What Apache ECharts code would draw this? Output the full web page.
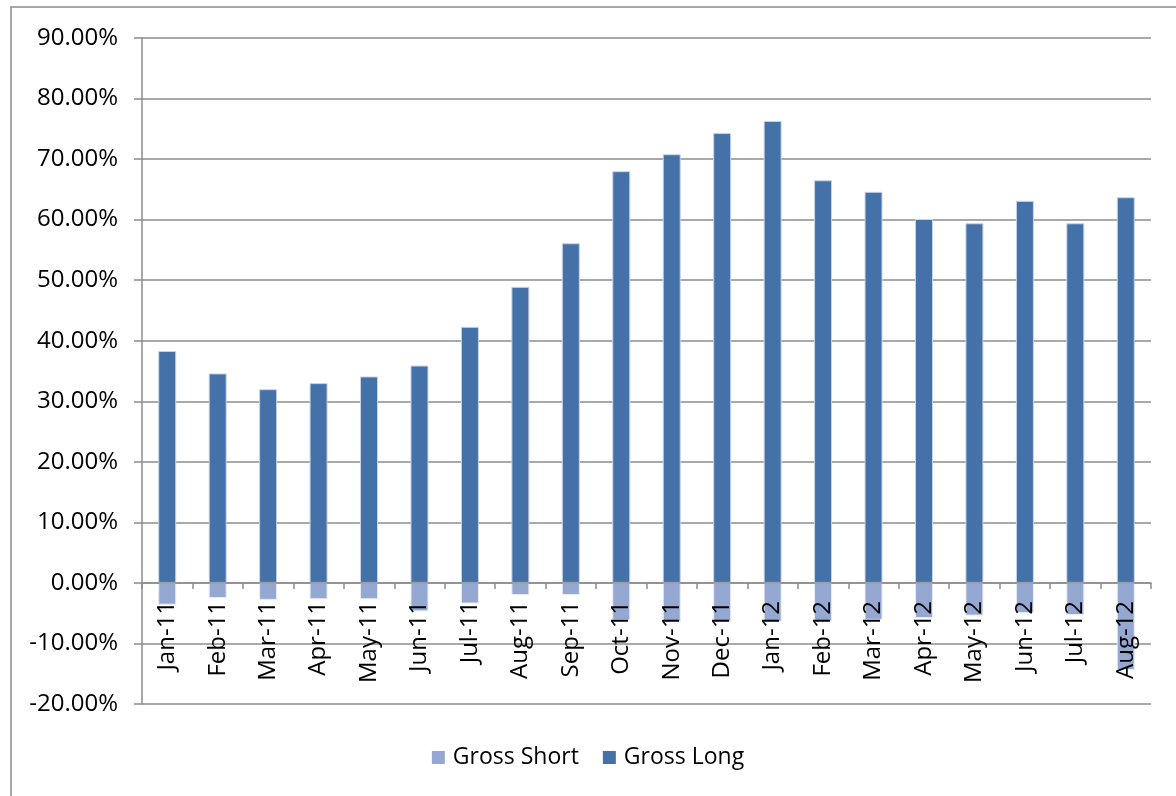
<!DOCTYPE html>
<html><head><meta charset="utf-8">
<script src="https://cdn.jsdelivr.net/npm/echarts@6/dist/echarts.min.js"></script>
<style>html,body{margin:0;padding:0;background:#fff}#c{width:1176px;height:796px}</style>
</head><body><div id="c"></div>
<script>
const categories = ['Jan-11','Feb-11','Mar-11','Apr-11','May-11','Jun-11','Jul-11','Aug-11','Sep-11','Oct-11','Nov-11','Dec-11','Jan-12','Feb-12','Mar-12','Apr-12','May-12','Jun-12','Jul-12','Aug-12'];
const grossLong = [38.3,34.6,32.0,33.0,34.1,35.9,42.3,48.9,56.1,68.0,70.8,74.3,76.3,66.5,64.6,60.1,59.4,63.1,59.4,63.7];
const grossShort = [-3.6,-2.5,-2.8,-2.7,-2.7,-4.7,-3.4,-2.0,-2.0,-6.2,-6.5,-6.4,-6.4,-6.4,-6.1,-5.8,-5.4,-5.0,-5.3,-14.4];
const yTicks = {min:-20, max:90, interval:10};
const FONT = '"Open Sans", "Liberation Sans", sans-serif';
const W = 1176, H = 796, gTop = 38, gBottom = 92, gLeft = 142, gRight = 25;
const plotH = H - gTop - gBottom;
// distance from bottom of grid up to the zero line
const zeroOffset = plotH * (0 - yTicks.min) / (yTicks.max - yTicks.min);
const chart = echarts.init(document.getElementById('c'));
chart.setOption({
  animation:false,
  backgroundColor:'#fff',
  graphic:[{type:'rect', shape:{x:11,y:7,width:1300,height:900}, style:{fill:'none', stroke:'#8c8c8c', lineWidth:1.5}, z:-10}],
  grid:{left:gLeft, right:gRight, top:gTop, bottom:gBottom},
  legend:{bottom:22, left:'center', itemWidth:13, itemHeight:13, itemGap:24, icon:'rect',
    textStyle:{fontFamily:FONT, fontSize:23, color:'#000', padding:[0,0,0,3]},
    itemStyle:{borderWidth:0},
    data:['Gross Short','Gross Long']},
  xAxis:{type:'category', data:categories, z:10, offset:-zeroOffset,
    axisLine:{onZero:false, lineStyle:{color:'#8c8c8c', width:1.5}},
    axisTick:{show:true, length:6, lineStyle:{color:'#8c8c8c', width:1.5}},
    axisLabel:{rotate:90, margin:18, interval:0, fontFamily:FONT, fontSize:24, color:'#000'}},
  yAxis:{type:'value', min:yTicks.min, max:yTicks.max, interval:yTicks.interval,
    axisLine:{show:true, lineStyle:{color:'#8c8c8c', width:1.5}},
    axisTick:{show:true, length:8, lineStyle:{color:'#8c8c8c', width:1.5}},
    splitLine:{lineStyle:{color:'#8c8c8c', width:1.5}},
    axisLabel:{margin:24, fontFamily:FONT, fontSize:24, color:'#000', formatter:v=>v.toFixed(2)+'%'}},
  series:[
    {name:'Gross Short', type:'bar', data:grossShort, barWidth:18, barGap:'-100%',
      itemStyle:{color:'#94a8d2', borderColor:'#e8ecf4', borderWidth:1}},
    {name:'Gross Long', type:'bar', data:grossLong, barWidth:18, barGap:'-100%',
      itemStyle:{color:'#4471a7', borderColor:'#c9d4e6', borderWidth:1}}
  ]
});
</script></body></html>
